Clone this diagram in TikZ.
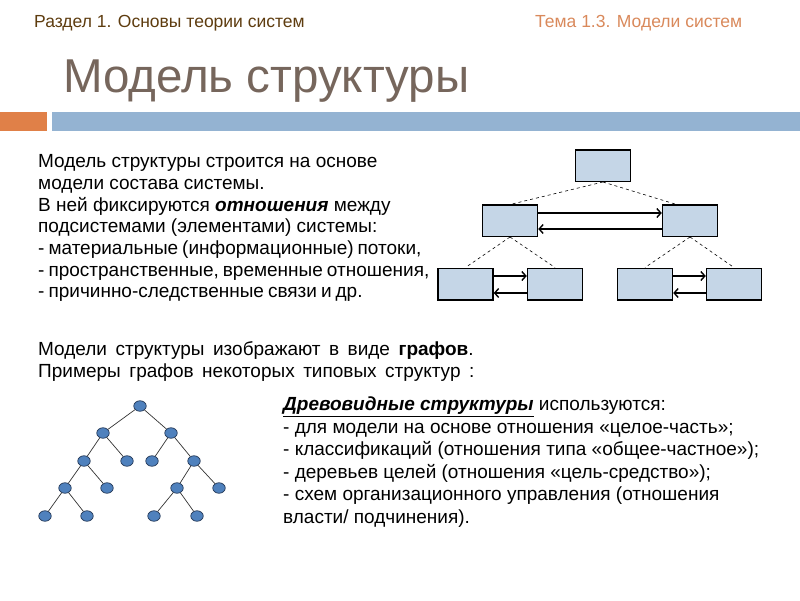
\documentclass[tikz,border=0pt]{standalone}
\usepackage{fontspec}
\setmainfont{Liberation Sans}
\usetikzlibrary{calc,shapes.geometric,arrows.meta}
\definecolor{headbrown}{RGB}{94,60,15}
\definecolor{headorange}{RGB}{217,137,91}
\definecolor{titlegray}{RGB}{118,102,92}
\definecolor{barorange}{RGB}{224,128,72}
\definecolor{barblue}{RGB}{148,179,210}
\definecolor{boxfill}{RGB}{197,214,231}
\definecolor{vertfill}{RGB}{79,129,189}
\definecolor{vertline}{RGB}{35,55,85}
\newcommand{\widespace}{\spaceskip=8.5pt\relax}
\newcommand{\tightspace}{\spaceskip=4pt\relax}
\tikzset{%
  sysbox/.style={draw=black,line width=1.5pt,fill=boxfill,
    minimum width=55pt,minimum height=31.5pt,inner sep=0pt},
  link/.style={-{Straight Barb[length=4pt,width=9pt]},line width=1.4pt},
  sub/.style={line width=0.6pt,dash pattern=on 3pt off 3pt},
  vert/.style={ellipse,draw=vertline,fill=vertfill,line width=0.7pt,
    minimum width=12.5pt,minimum height=10.5pt,inner sep=0pt},
  edge/.style={draw=black!80,line width=0.7pt},
  para/.style={anchor=north west,inner sep=0pt,align=left},
}
\begin{document}
\begin{tikzpicture}[x=1pt,y=-1pt]
  \useasboundingbox (0,0) rectangle (800,600);
  % header
  \node[anchor=base west,inner sep=0pt,text=headbrown,
    font=\fontsize{17.5}{20}\selectfont] (part) at (34,27)
    {Раздел 1. Основы теории систем};
  \node[anchor=base west,inner sep=0pt,text=headorange,
    font=\fontsize{17.5}{20}\selectfont] (topic) at (535,27)
    {Тема 1.3. Модели систем};
  \node[anchor=base west,inner sep=0pt,text=titlegray,
    font=\fontsize{47.5}{50}\selectfont] (title) at (63,92)
    {Модель структуры};
  \fill[barorange] (0,112) rectangle (47,131);
  \fill[barblue] (52,112) rectangle (800,131);
  % text
  \node[para,font=\fontsize{19}{21.7}\selectfont] (intro) at (38,154.5)
    {Модель структуры строится на основе\\
     модели состава системы.\\
     В ней фиксируются \textbf{\textit{отношения}} между\\
     подсистемами (элементами) системы:\\
     {\tightspace - материальные (информационные) потоки,}\\
     {\tightspace - пространственные, временные отношения,}\\
     {\tightspace - причинно-следственные связи и др.}};
  \node[para,font=\fontsize{19}{21.5}\selectfont\widespace] (graphs) at (38,341.5)
    {Модели структуры изображают в виде \textbf{графов}.\\
     Примеры графов некоторых типовых структур :};
  \node[para,font=\fontsize{19}{22.6}\selectfont] (uses) at (283,396.5)
    {\underline{\textbf{\textit{Древовидные структуры}}} используются:\\
     - для модели на основе отношения «целое-часть»;\\
     - классификаций (отношения типа «общее-частное»);\\
     - деревьев целей (отношения «цель-средство»);\\
     - схем организационного управления (отношения\\
     власти/ подчинения).};
  % boxes
  \node[sysbox] (top) at (603,165.5) {};
  \node[sysbox] (ml) at (510,220.5) {};
  \node[sysbox] (mr) at (690,220.5) {};
  \node[sysbox] (b1) at (465.5,284) {};
  \node[sysbox] (b2) at (555,284) {};
  \node[sysbox] (b3) at (645,284) {};
  \node[sysbox] (b4) at (734,284) {};
  \draw[sub] (top.south) -- ($(ml.north)+(2,0)$);
  \draw[sub] (top.south) -- ($(mr.north)+(-15,0)$);
  \draw[sub] (ml.south) -- (b1.north);
  \draw[sub] (ml.south) -- (b2.north);
  \draw[sub] (mr.south) -- (b3.north);
  \draw[sub] (mr.south) -- (b4.north);
  \draw[link] ([yshift=7.5pt]ml.east) -- ([yshift=7.5pt]mr.west);
  \draw[link] ([yshift=-8.5pt]mr.west) -- ([yshift=-8.5pt]ml.east);
  \draw[link] ([yshift=8pt]b1.east) -- ([yshift=8pt]b2.west);
  \draw[link] ([yshift=-9pt]b2.west) -- ([yshift=-9pt]b1.east);
  \draw[link] ([yshift=8pt]b3.east) -- ([yshift=8pt]b4.west);
  \draw[link] ([yshift=-9pt]b4.west) -- ([yshift=-9pt]b3.east);
  % tree
  \foreach \n/\x/\y in {r/140/406, a/103/433, b/171/433,
      aa/84/461, ab/127/461, ba/152/461, bb/194/461,
      aaa/65/488, aab/107/488, bba/177/488, bbb/219/488,
      l1/45/516, l2/87/516, l3/154/516, l4/197/516}
    \node[vert] (\n) at (\x,\y) {};
  \foreach \u/\v in {r/a, r/b, a/aa, a/ab, b/ba, b/bb,
      aa/aaa, aa/aab, bb/bba, bb/bbb,
      aaa/l1, aaa/l2, bba/l3, bba/l4}
    \draw[edge] (\u) -- (\v);
\end{tikzpicture}
\end{document}
